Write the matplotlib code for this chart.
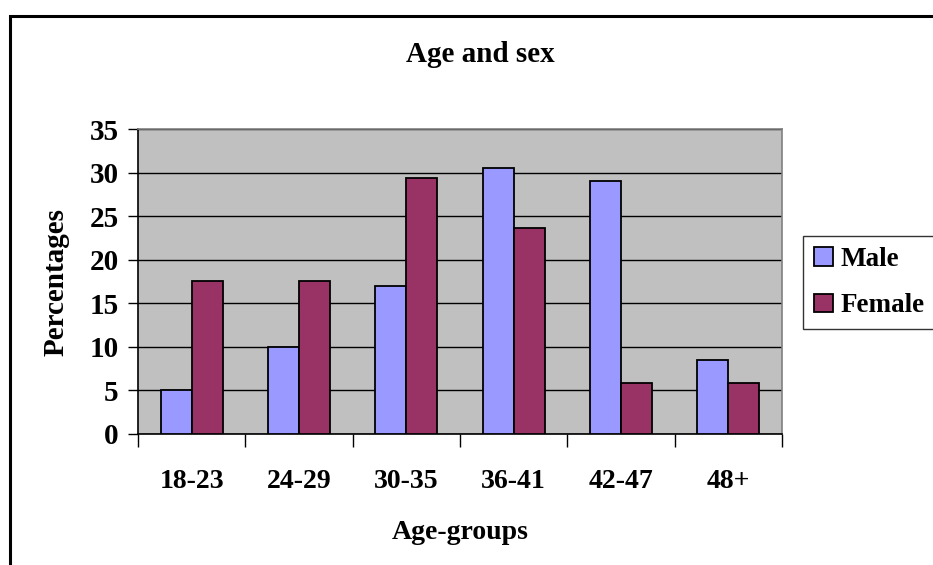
import matplotlib
matplotlib.use("Agg")
import matplotlib.pyplot as plt
import numpy as np
from matplotlib.patches import Rectangle, Patch


age_groups = ["18-23", "24-29", "30-35", "36-41", "42-47", "48+"]
male = [5.0, 10.0, 17.0, 30.5, 29.0, 8.5]
female = [17.6, 17.6, 29.4, 23.6, 5.8, 5.8]
y_ticks = [0, 5, 10, 15, 20, 25, 30, 35]

MALE_COLOR = "#9999FF"
FEMALE_COLOR = "#993366"

plt.rcParams["font.family"] = ["Liberation Serif", "DejaVu Serif"]
plt.rcParams["font.weight"] = "bold"

fig = plt.figure(figsize=(9.33, 5.65), dpi=100)
ax = fig.add_axes([138 / 933, 131 / 565, 644 / 933, 305 / 565])

x = np.arange(len(age_groups))
bar_w = 0.29

ax.bar(x - bar_w / 2, male, bar_w, color=MALE_COLOR,
       edgecolor="black", linewidth=1.3, zorder=3, label="Male")
ax.bar(x + bar_w / 2, female, bar_w, color=FEMALE_COLOR,
       edgecolor="black", linewidth=1.3, zorder=3, label="Female")

ax.set_facecolor("#C0C0C0")
ax.set_xlim(-0.5, len(age_groups) - 0.5)
ax.set_ylim(0, 35)

ax.set_yticks(y_ticks)
ax.set_yticklabels([str(v) for v in y_ticks], fontsize=21, fontweight="bold")
ax.grid(axis="y", color="black", linewidth=1.0, zorder=1)
ax.set_axisbelow(True)

# category boundaries carry the tick marks, labels sit in the middle
ax.set_xticks(np.arange(-0.5, len(age_groups), 1.0))
ax.set_xticklabels([])
ax.set_xticks(x, minor=True)
ax.set_xticklabels(age_groups, minor=True, fontsize=20, fontweight="bold")
ax.tick_params(axis="x", which="major", length=9, width=1, color="black")
ax.tick_params(axis="x", which="minor", length=0, pad=25)
ax.tick_params(axis="y", length=7, width=1, pad=7)

for side in ["top", "right"]:
    ax.spines[side].set_color("#808080")
    ax.spines[side].set_linewidth(1.2)
for side in ["left", "bottom"]:
    ax.spines[side].set_color("black")
    ax.spines[side].set_linewidth(1.2)

ax.set_xlabel("Age-groups", fontsize=20, fontweight="bold", labelpad=19)
ax.set_ylabel("Percentages", fontsize=21, fontweight="bold", labelpad=14)

fig.text(480 / 933, 1 - 54 / 565, "Age and sex", ha="center", va="center",
         fontsize=21, fontweight="bold")

handles = [
    Patch(facecolor=MALE_COLOR, edgecolor="black", linewidth=1.3),
    Patch(facecolor=FEMALE_COLOR, edgecolor="black", linewidth=1.3),
]
leg = fig.legend(handles, ["Male", "Female"], loc="upper left",
                 bbox_to_anchor=(803 / 933, 1 - 236 / 565),
                 borderaxespad=0, frameon=True, fancybox=False,
                 handlelength=0.7, handleheight=0.7, handletextpad=0.3,
                 borderpad=0.4, labelspacing=0.8,
                 prop={"weight": "bold", "size": 19.5})
leg.get_frame().set_edgecolor("black")
leg.get_frame().set_linewidth(1.0)

# outer chart border, only the left and top edges are inside the picture
fig.patches.append(Rectangle((9.5 / 933, -0.2), 1.2, 1.2 - 16 / 565,
                             transform=fig.transFigure, fill=False,
                             edgecolor="black", linewidth=2.2))

fig.savefig("out.png", dpi=100)
plt.close(fig)
